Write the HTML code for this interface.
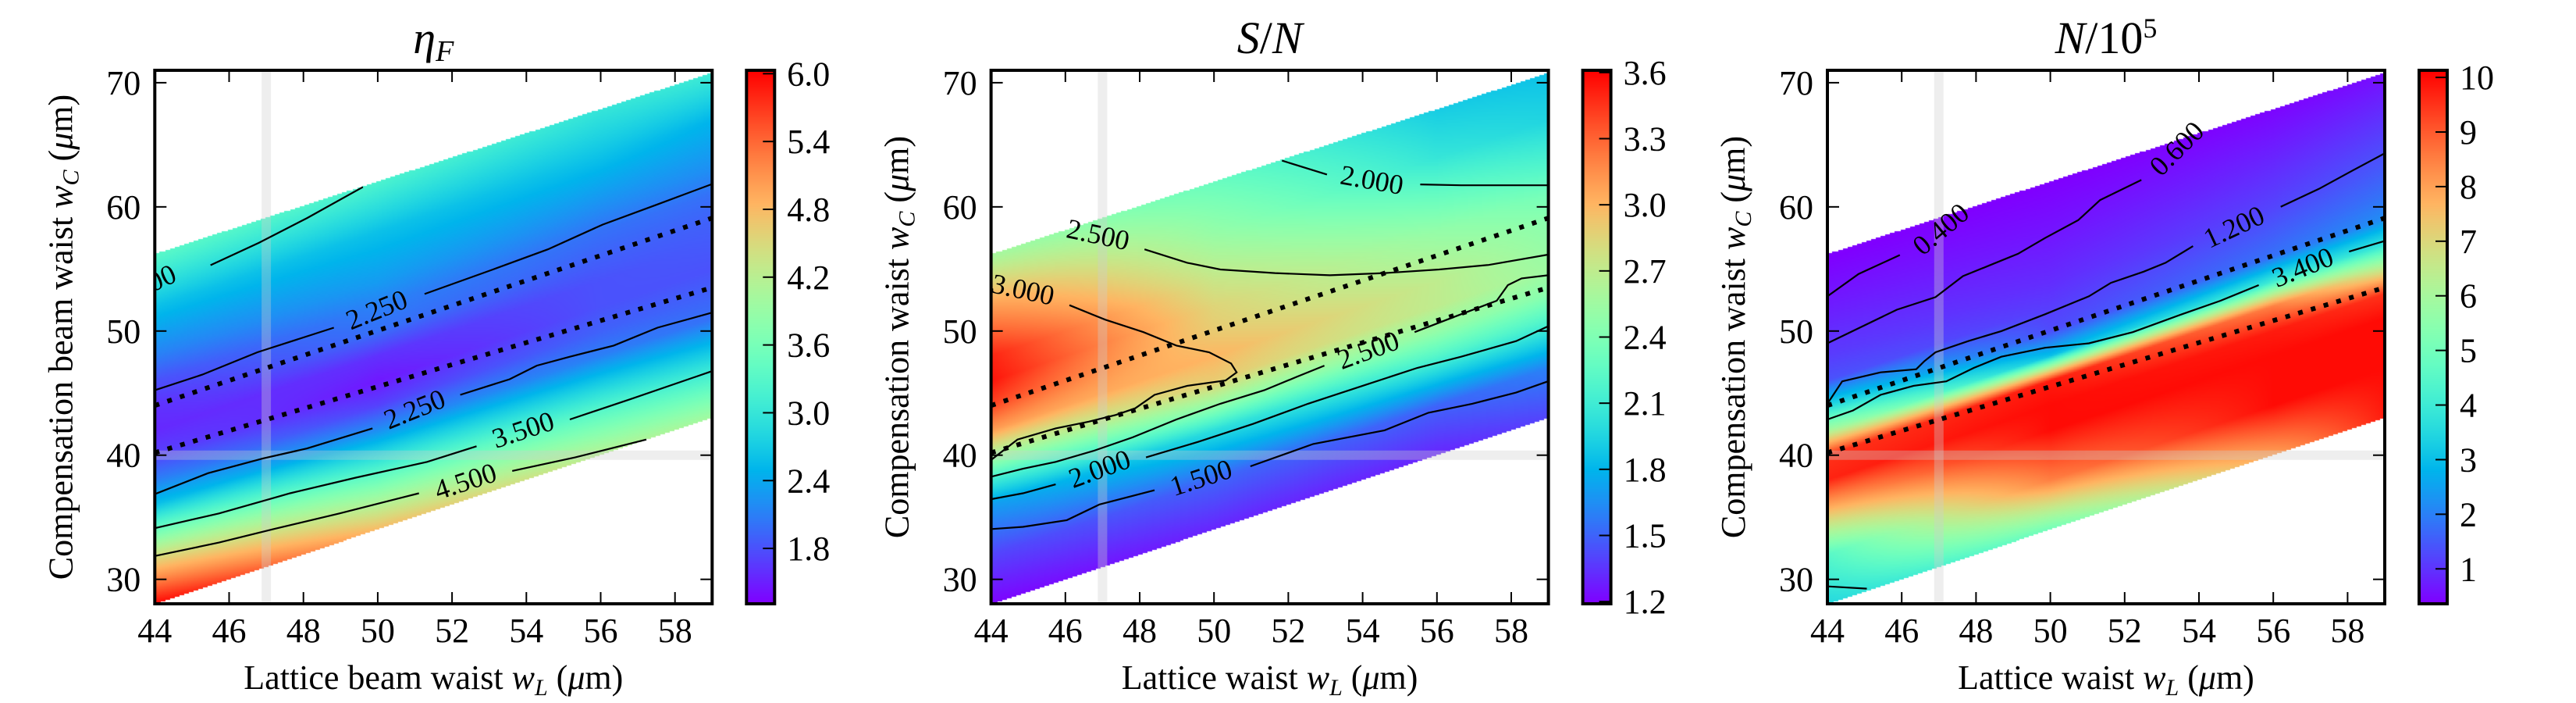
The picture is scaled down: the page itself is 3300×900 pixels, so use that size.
<!DOCTYPE html>
<html><head><meta charset="utf-8">
<style>
html,body{margin:0;padding:0;background:#fff;}
#wrap{position:relative;width:3300px;height:900px;overflow:hidden;background:#fff;}
canvas{position:absolute;}
svg{position:absolute;left:0;top:0;}
svg text, svg tspan{font-family:"Liberation Serif","DejaVu Serif",serif;fill:#000;}
</style></head>
<body>
<div id="wrap">
<canvas id="hm0"></canvas>
<canvas id="hm1"></canvas>
<canvas id="hm2"></canvas>
<canvas id="cb0"></canvas>
<canvas id="cb1"></canvas>
<canvas id="cb2"></canvas>
<svg id="ov" width="3300" height="900" xmlns="http://www.w3.org/2000/svg" font-family="Liberation Serif, DejaVu Serif, serif"></svg>
</div>
<script>
// ---------- data ----------
const gridX = [44, 50, 56, 59];
const gridU = [12, 8, 4, 2, 0, -2, -4, -6, -8, -12, -16]; // u = wC - wL
const etaValues = [
  [3.3,2.6,2.1,1.8,1.6,1.55,1.7,2.1,2.6,4.4,6.0],
  [3.2,2.6,2.3,2.1,2.0,1.6,1.45,1.7,2.2,3.5,4.8],
  [3.0,2.6,2.2,2.0,1.9,1.8,1.8,1.9,2.1,3.2,4.2],
  [3.1,2.5,2.2,2.0,1.9,1.85,1.8,1.9,2.0,3.0,4.0]
];
const snValues = [
  [2.6,3.1,3.5,3.55,3.4,3.1,2.6,2.1,1.7,1.4,1.2],
  [2.3,2.5,2.75,2.85,2.9,3.0,2.9,2.5,2.0,1.5,1.3],
  [1.9,2.05,2.35,2.5,2.6,2.7,2.7,2.5,2.2,1.5,1.3],
  [1.85,1.95,2.2,2.35,2.45,2.5,2.55,2.45,2.2,1.6,1.4]
];
const numValues = [
  [0.35,0.7,1.1,1.4,3.5,6,9.5,9.7,8,4.5,3.5],
  [0.35,0.6,0.9,1.1,1.3,3,9.8,10,10,8.5,5],
  [0.4,0.8,1.2,1.5,1.8,4,8.5,9.8,10,10,8],
  [0.5,1.0,1.5,1.8,2.2,3.8,6.5,9.5,10,10,9.8]
];
const xTicks = [44,46,48,50,52,54,56,58];
const yTicks = [30,40,50,60,70];
const etaCbTicks = ["1.8","2.4","3.0","3.6","4.2","4.8","5.4","6.0"];
const snCbTicks = ["1.2","1.5","1.8","2.1","2.4","2.7","3.0","3.3","3.6"];
const numCbTicks = ["1","2","3","4","5","6","7","8","9","10"];
const etaRange = [1.31, 6.03];
const snRange = [1.19, 3.61];
const numRange = [0.36, 10.13];
const dottedLines = [[[44,44],[59,59.1]], [[44,40.2],[59,53.5]]];
// contour polylines (data coords)
const etaContours = [
  [[45.5,55.3],[46.8,57.1],[48.1,59.1],[49.6,61.6]],
  [[44,45.23],[45.28,46.49],[46.76,48.29],[48.82,50.27]],
  [[51.26,52.98],[53.1,54.96],[54.58,56.58],[56.05,58.57],[57.52,60.19],[58.97,61.81]],
  [[44,36.86],[45.43,38.55],[46.91,39.74],[48.09,40.54],[49.86,42.16]],
  [[52.22,44.86],[53.55,46.12],[54.28,47.21],[55.17,47.93],[56.35,48.83],[57.53,50.27],[58.97,51.46]],
  [[44,34.12],[45.73,35.31],[47.64,36.93],[49.41,38.19],[51.33,39.46],[52.66,40.72]],
  [[55.17,42.88],[56.79,44.5],[58.97,46.74]],
  [[44,31.88],[45.73,32.96],[47.2,34.05],[48.97,35.31],[51.11,36.93]],
  [[53.62,38.73],[55.31,39.82],[57.23,41.26]]
];
const etaLabels = [["3.500",43.75,53.7,-24],["2.250",49.97,51.72,-22],["2.250",50.99,43.71,-22],["3.500",53.91,42.05,-18],["4.500",52.36,37.9,-18]];
const snContours = [
  [[51.83,63.73],[53.04,62.61]],
  [[55.55,61.81],[56.65,61.74],[58.99,61.74]],
  [[48.13,56.58],[49.28,55.5],[50.17,54.96],[51.64,54.67],[53.12,54.49],[54.59,54.67],[56.06,54.96],[57.39,55.32],[58.99,56.15]],
  [[46.11,52.08],[47.07,50.92],[48.1,49.91],[48.99,48.83],[49.87,48.29],[50.46,47.39],[50.61,46.67],[50.31,46.02],[49.28,45.59],[48.4,44.86],[47.88,43.78],[47.36,43.24],[46.63,42.7],[45.74,42.16],[44.71,41.26],[44.01,39.64]],
  [[44.01,38.27],[44.86,38.91],[45.74,39.46],[46.77,40.36],[47.81,41.44],[48.99,42.88],[50.17,44.14],[51.35,45.23],[52.23,46.31],[52.97,47.21]],
  [[55.4,49.91],[56.65,51.35],[57.61,52.44],[57.91,53.7],[58.28,54.24],[58.99,54.49]],
  [[44.01,36.46],[44.86,36.93],[45.74,37.65]],
  [[48.17,39.82],[49.58,41.08],[51.05,42.52],[52.53,44.14],[54.0,45.59],[55.47,47.03],[56.65,47.93],[58.13,49.19],[58.99,50.38]],
  [[44.01,34.05],[44.86,34.23],[46.04,34.77],[46.92,36.03],[48.4,37.18]],
  [[50.98,39.1],[52.67,40.9],[54.59,42.0],[55.77,43.42],[56.95,44.14],[58.13,45.04],[58.99,45.95]]
];
const snLabels = [["2.000",54.25,62.17,10],["2.500",46.88,57.77,12],["3.000",44.86,53.34,12],["2.500",54.15,48.47,-20],["2.000",46.92,38.91,-20],["1.500",49.65,38.19,-18]];
const numContours = [
  [[44,52.8],[44.84,54.6],[45.95,56.12]],
  [[44,49.01],[45.87,51.72],[46.91,52.73],[47.65,54.42],[48.39,55.32],[49.13,56.22],[49.86,57.49],[50.75,58.93],[51.34,60.55],[52.45,62.17]],
  [[44,44.14],[44.4,45.95],[45.43,46.67],[46.39,46.92],[46.61,47.57],[46.91,48.29],[47.79,49.19],[48.68,49.99],[49.86,51.35],[51.04,52.8],[51.63,53.88],[52.51,54.78],[53.1,55.5],[53.84,56.84]],
  [[56.2,60.01],[57.23,61.45],[58.12,62.9],[58.97,64.27]],
  [[44,42.88],[44.69,43.6],[45.43,44.86],[46.32,45.59],[47.2,45.95],[47.94,47.03],[48.68,47.93],[49.86,48.65],[51.04,49.01],[52.22,49.91],[53.54,51.35],[54.58,52.44],[55.61,53.7]],
  [[58.04,56.4],[58.97,57.23]],
  [[44,29.43],[45.06,29.25]]
];
const numLabels = [["0.400",47.05,58.21,-40],["0.600",53.4,64.7,-45],["1.200",54.94,58.39,-25],["3.400",56.79,55.14,-22]];

// ---------- layout ----------
const X_MIN=44, X_MAX=59, Y_MIN=28.03, Y_MAX=71.0;
const PW=714, PT=90, PH=683;
const lefts=[198.3,1269.6,2341];
const CB_OFF=758, CB_W=36;
const FONT='Liberation Serif, DejaVu Serif, serif';
function sx(l,x){return l+(x-X_MIN)/(X_MAX-X_MIN)*PW;}
function sy(y){return PT+(Y_MAX-y)/(Y_MAX-Y_MIN)*PH;}
function rainbow(t){t=Math.max(0,Math.min(1,t));
  let r=Math.min(1,Math.abs(2*t-0.5)), g=Math.sin(Math.PI*t), b=Math.cos(Math.PI*t/2);
  return [Math.round(r*255),Math.round(g*255),Math.round(Math.max(0,b)*255)];}
function findIdx(arr,v,desc){
  for(let i=0;i<arr.length-1;i++){const a=arr[i],b=arr[i+1];
    if((v<=a&&v>=b)||(v>=a&&v<=b)){return [i,(v-a)/(b-a)];}}
  if(desc){return v>arr[0]?[0,0]:[arr.length-2,1];}
  return v<arr[0]?[0,0]:[arr.length-2,1];}
function field(vals,x,y){const u=y-x;
  const [i,fx]=findIdx(gridX,x,false), [j,fu]=findIdx(gridU,u,true);
  const a=vals[i][j],b=vals[i][j+1],c=vals[i+1][j],d=vals[i+1][j+1];
  return (a*(1-fu)+b*fu)*(1-fx)+(c*(1-fu)+d*fu)*fx;}
function inBand(x,y){return y>=x-16 && y<=56.2+(x-44)*0.973;}

const panels=[
 {vals:etaValues,range:etaRange,cb:etaCbTicks,cont:etaContours,lab:etaLabels,name:"eta-f",
  ylab:"Compensation beam waist ",xlab:"Lattice beam waist "},
 {vals:snValues,range:snRange,cb:snCbTicks,cont:snContours,lab:snLabels,name:"signal-to-noise",
  ylab:"Compensation waist ",xlab:"Lattice waist "},
 {vals:numValues,range:numRange,cb:numCbTicks,cont:numContours,lab:numLabels,name:"atom-number",
  ylab:"Compensation waist ",xlab:"Lattice waist "}
];
const NS="http://www.w3.org/2000/svg";
const ov=document.getElementById('ov');
function mk(tag,attrs,parent){const e=document.createElementNS(NS,tag);for(const k in attrs)e.setAttribute(k,attrs[k]);
  if(tag==='text')e.setAttribute('font-family',FONT);
  (parent||ov).appendChild(e);return e;}

panels.forEach((p,k)=>{
  const L=lefts[k];
  const cv=document.getElementById('hm'+k);
  const W=Math.round(PW),H=PH;
  cv.width=W;cv.height=H;cv.style.left=L+'px';cv.style.top=PT+'px';
  const ctx=cv.getContext('2d');const img=ctx.createImageData(W,H);
  const step=2;
  for(let py=0;py<H;py+=step){for(let px=0;px<W;px+=step){
    const x=X_MIN+(px+step/2)/PW*(X_MAX-X_MIN), y=Y_MAX-(py+step/2)/PH*(Y_MAX-Y_MIN);
    if(!inBand(x,y))continue;
    const v=field(p.vals,x,y);const c=rainbow((v-p.range[0])/(p.range[1]-p.range[0]));
    for(let dy=0;dy<step&&py+dy<H;dy++)for(let dx=0;dx<step&&px+dx<W;dx++){
      const o=((py+dy)*W+px+dx)*4;img.data[o]=c[0];img.data[o+1]=c[1];img.data[o+2]=c[2];img.data[o+3]=255;}
  }}
  ctx.putImageData(img,0,0);
  const cb=document.getElementById('cb'+k);
  cb.width=CB_W;cb.height=PH;cb.style.left=(L+CB_OFF)+'px';cb.style.top=PT+'px';
  const c2=cb.getContext('2d');
  for(let i=0;i<PH;i++){const c=rainbow(1-i/(PH-1));c2.fillStyle='rgb('+c+')';c2.fillRect(0,i,CB_W,1);}

  const g=mk('g',{});
  
  
  const cid='clip'+k;
  const cp=mk('clipPath',{id:cid},g);mk('rect',{x:L,y:PT,width:PW,height:PH},cp);
  const inner=mk('g',{'clip-path':'url(#'+cid+')'},g);
  const vl=mk('line',{x1:sx(L,47),x2:sx(L,47),y1:PT,y2:PT+PH,stroke:'rgba(205,205,205,0.35)','stroke-width':12},inner);
  
  
  const hl=mk('line',{x1:L,x2:L+PW,y1:sy(40),y2:sy(40),stroke:'rgba(205,205,205,0.35)','stroke-width':12},inner);
  
  
  p.cont.forEach((pts,ci)=>{
    const d=pts.map((q,i)=>(i?'L':'M')+sx(L,q[0]).toFixed(1)+' '+sy(q[1]).toFixed(1)).join(' ');
    const pa=mk('path',{d:d,fill:'none',stroke:'#000','stroke-width':2.2},inner);
    
    
  });
  p.lab.forEach(lb=>{
    const X=sx(L,lb[1]),Y=sy(lb[2]);
    const t=mk('text',{x:X,y:Y,'font-size':36,'text-anchor':'middle','dominant-baseline':'central',transform:'rotate('+lb[3]+' '+X+' '+Y+')'},inner);
    t.textContent=lb[0];
    
    
  });
  dottedLines.forEach(dl=>{
    const ln=mk('line',{x1:sx(L,dl[0][0]),y1:sy(dl[0][1]),x2:sx(L,dl[1][0]),y2:sy(dl[1][1]),stroke:'#000','stroke-width':6,'stroke-dasharray':'6 11'},inner);
    
    
  });
  const fr=mk('rect',{x:L,y:PT,width:PW,height:PH,fill:'none',stroke:'#000','stroke-width':4},g);
  
  
  xTicks.forEach(v=>{const X=sx(L,v);
    mk('line',{x1:X,x2:X,y1:PT+PH,y2:PT+PH-15,stroke:'#000','stroke-width':2},g);
    mk('line',{x1:X,x2:X,y1:PT,y2:PT+15,stroke:'#000','stroke-width':2},g);
    const t=mk('text',{x:X,y:822,'font-size':44,'text-anchor':'middle'},g);t.textContent=v;
    
    
  });
  yTicks.forEach(v=>{const Y=sy(v);
    mk('line',{x1:L,x2:L+15,y1:Y,y2:Y,stroke:'#000','stroke-width':2},g);
    mk('line',{x1:L+PW,x2:L+PW-15,y1:Y,y2:Y,stroke:'#000','stroke-width':2},g);
    const t=mk('text',{x:L-18,y:Y+15,'font-size':44,'text-anchor':'end'},g);t.textContent=v;
    
    
  });
  const CX=L+CB_OFF;
  const cf=mk('rect',{x:CX,y:PT,width:CB_W,height:PH,fill:'none',stroke:'#000','stroke-width':4},g);
  
  
  p.cb.forEach(s=>{const v=parseFloat(s);
    const Y=PT+(p.range[1]-v)/(p.range[1]-p.range[0])*PH;
    mk('line',{x1:CX+CB_W,x2:CX+CB_W-15,y1:Y,y2:Y,stroke:'#000','stroke-width':2},g);
    const t=mk('text',{x:CX+CB_W+16,y:Y+15,'font-size':44},g);t.textContent=s;
    
    
  });
  const cxm=L+PW/2;
  const xl=mk('text',{x:cxm,y:882,'font-size':44,'text-anchor':'middle'},g);
  xl.innerHTML=p.xlab+'<tspan font-style="italic">w</tspan><tspan font-style="italic" font-size="30" dy="8">L</tspan><tspan dy="-8"> (</tspan><tspan font-style="italic">μ</tspan>m)';
  
  
  const cy=PT+PH/2, yx=L-106;
  const yl=mk('text',{x:yx,y:cy,'font-size':44,'text-anchor':'middle',transform:'rotate(-90 '+yx+' '+cy+')'},g);
  yl.innerHTML=p.ylab+'<tspan font-style="italic">w</tspan><tspan font-style="italic" font-size="30" dy="8">C</tspan><tspan dy="-8"> (</tspan><tspan font-style="italic">μ</tspan>m)';
  
  
});
const titles=[
 '<tspan font-style="italic">η</tspan><tspan font-style="italic" font-size="38" dy="10">F</tspan>',
 '<tspan font-style="italic">S</tspan>/<tspan font-style="italic">N</tspan>',
 '<tspan font-style="italic">N</tspan>/10<tspan font-size="36" dy="-20">5</tspan>'
];
titles.forEach((h,k)=>{const t=mk('text',{x:lefts[k]+PW/2,y:68,'font-size':58,'text-anchor':'middle'});t.innerHTML=h;
  
  
});
</script>
</body></html>
